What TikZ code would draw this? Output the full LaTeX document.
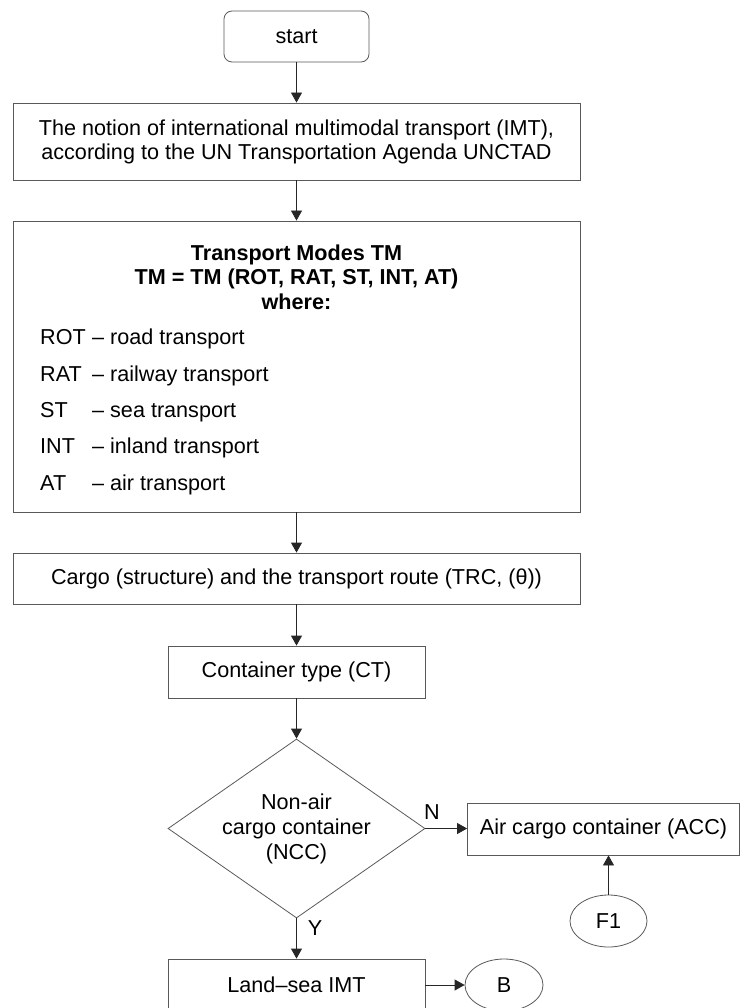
\documentclass[tikz,border=0pt]{standalone}
\usepackage{fontspec}
\setmainfont{Liberation Sans}
\usetikzlibrary{shapes.geometric,arrows.meta}
\newcommand\fsz{\fontsize{21.6}{24}\selectfont}
\begin{document}
\begin{tikzpicture}[x=1pt,y=-1pt,
  box/.style={draw=black!65, line width=0.8pt, inner sep=0pt, align=center, font=\fsz},
  arr/.style={draw=black!85, line width=0.8pt, -{Triangle[length=10pt,width=11pt]}},
  lbl/.style={inner sep=0pt, font=\fsz, anchor=base west},
  tag/.style={inner sep=0pt, font=\fsz}]
\useasboundingbox (0,0) rectangle (741,1008);

\node[box, rounded corners=8pt, minimum width=145pt, minimum height=51pt] (start) at (296.5,36.5) {start};
\node[box, minimum width=567pt, minimum height=77pt] (notion) at (296.5,141.5)
  {The notion of international multimodal transport (IMT),\\according to the UN Transportation Agenda UNCTAD};
\node[box, minimum width=567pt, minimum height=291pt] (modes) at (296.5,366.5) {};
\node[inner sep=0pt, align=center, font=\fontsize{21.6}{24.5}\selectfont\bfseries] (title) at (296.5,277)
  {Transport Modes TM\\TM = TM (ROT, RAT, ST, INT, AT)\\where:};

\node[lbl] (rot) at (40,344.5) {ROT};
\node[lbl] (rotd) at (92,344.5) {– road transport};
\node[lbl] (rat) at (40,381) {RAT};
\node[lbl] (ratd) at (92,381) {– railway transport};
\node[lbl] (st) at (40,417.5) {ST};
\node[lbl] (std) at (92,417.5) {– sea transport};
\node[lbl] (int) at (40,453.5) {INT};
\node[lbl] (intd) at (92,453.5) {– inland transport};
\node[lbl] (at) at (40,490) {AT};
\node[lbl] (atd) at (92,490) {– air transport};

\node[box, minimum width=567pt, minimum height=51pt] (cargo) at (296.5,578.5)
  {Cargo (structure) and the transport route (TRC, (θ))};
\node[box, minimum width=257pt, minimum height=52pt] (ct) at (296.5,672) {Container type (CT)};
\node[box, diamond, aspect=1.436, minimum width=257pt, minimum height=179pt,
  font=\fontsize{21.6}{25}\selectfont] (ncc) at (296.5,828.5) {Non-air\\cargo container\\(NCC)};
\node[box, minimum width=272pt, minimum height=52pt] (acc) at (603.5,829) {Air cargo container (ACC)};
\node[box, ellipse, minimum width=77pt, minimum height=52pt] (f1) at (608.5,921) {F1};
\node[box, minimum width=257pt, minimum height=52pt] (land) at (296.5,985) {Land–sea IMT};
\node[box, ellipse, minimum width=78pt, minimum height=52pt] (b) at (504,985) {B};

\node[tag] (n) at (432,812) {N};
\node[tag] (y) at (315,928) {Y};

\draw[arr] (start) -- (notion);
\draw[arr] (notion) -- (modes);
\draw[arr] (modes) -- (cargo);
\draw[arr] (cargo) -- (ct);
\draw[arr] (ct) -- (ncc);
\draw[arr] (ncc.east) -- (ncc.east -| acc.west);
\draw[arr] (ncc.south) -- (land.north);
\draw[arr] (f1.north) -- (f1.north |- acc.south);
\draw[arr] (land.east) -- (b.west);
\end{tikzpicture}
\end{document}
